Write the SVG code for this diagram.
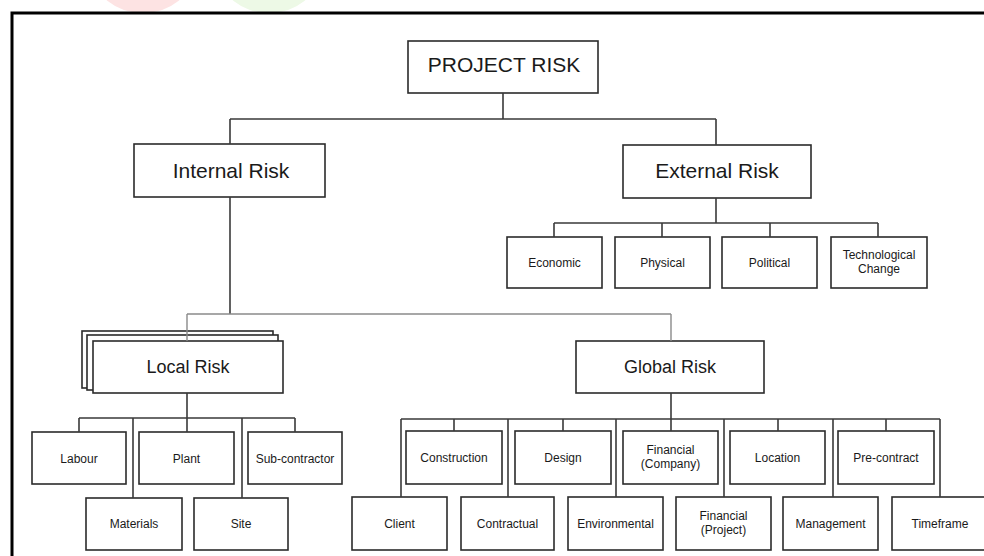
<svg xmlns="http://www.w3.org/2000/svg" width="984" height="556" viewBox="0 0 984 556">
<style>
.box{fill:#fff;stroke:#2b2b2b;stroke-width:1.6}
.big{font-family:"Liberation Sans",Arial,sans-serif;font-size:21px;fill:#1a1a1a;text-anchor:middle}
.mid{font-family:"Liberation Sans",Arial,sans-serif;font-size:18px;fill:#1a1a1a;text-anchor:middle}
.sm{font-family:"Liberation Sans",Arial,sans-serif;font-size:12px;fill:#1a1a1a;text-anchor:middle}
.con{fill:none;stroke:#3a3a3a;stroke-width:1.6}
.con2{fill:none;stroke:#8a8a8a;stroke-width:1.4}
</style>
<rect width="984" height="556" fill="#fff"/>
<ellipse cx="143" cy="-28" rx="50" ry="41" fill="#fde3e3"/>
<ellipse cx="269" cy="-28" rx="50" ry="41" fill="#edf9e6"/>
<rect x="12" y="13" width="990" height="560" fill="#fff" stroke="#000" stroke-width="3"/>

<g id="project-risk"><rect class="box" x="408" y="41" width="190" height="52"/><text class="big" x="504" y="72">PROJECT RISK</text></g>
<g id="internal-risk"><rect class="box" x="134" y="144" width="191" height="53"/><text class="big" x="231" y="178">Internal Risk</text></g>
<g id="external-risk"><rect class="box" x="623" y="145" width="188" height="53"/><text class="big" x="717" y="178">External Risk</text></g>

<g id="economic"><rect class="box" x="507" y="237" width="95" height="51"/><text class="sm" x="554.5" y="267">Economic</text></g>
<g id="physical"><rect class="box" x="615" y="237" width="95" height="51"/><text class="sm" x="662.5" y="267">Physical</text></g>
<g id="political"><rect class="box" x="722" y="237" width="95" height="51"/><text class="sm" x="769.5" y="267">Political</text></g>
<g id="technological-change"><rect class="box" x="831" y="237" width="96" height="51"/><text class="sm" x="879" y="259">Technological</text><text class="sm" x="879" y="273">Change</text></g>

<g id="local-risk">
<rect class="box" x="82" y="331" width="191" height="57"/>
<rect class="box" x="87" y="335" width="191" height="55"/>
<rect class="box" x="93" y="341" width="190" height="52"/>
<text class="mid" x="188" y="373">Local Risk</text></g>
<g id="global-risk"><rect class="box" x="576" y="341" width="188" height="52"/><text class="mid" x="670" y="373">Global Risk</text></g>

<g id="labour"><rect class="box" x="32" y="432" width="94" height="52"/><text class="sm" x="79" y="463">Labour</text></g>
<g id="plant"><rect class="box" x="139" y="432" width="95" height="52"/><text class="sm" x="186.5" y="463">Plant</text></g>
<g id="sub-contractor"><rect class="box" x="248" y="432" width="94" height="52"/><text class="sm" x="295" y="463">Sub-contractor</text></g>
<g id="materials"><rect class="box" x="86" y="498" width="96" height="52"/><text class="sm" x="134" y="528">Materials</text></g>
<g id="site"><rect class="box" x="194" y="498" width="94" height="52"/><text class="sm" x="241" y="528">Site</text></g>

<g id="construction"><rect class="box" x="406" y="431" width="96" height="53"/><text class="sm" x="454" y="462">Construction</text></g>
<g id="design"><rect class="box" x="515" y="431" width="96" height="53"/><text class="sm" x="563" y="462">Design</text></g>
<g id="financial-company"><rect class="box" x="623" y="431" width="95" height="53"/><text class="sm" x="670.5" y="454">Financial</text><text class="sm" x="670.5" y="468">(Company)</text></g>
<g id="location"><rect class="box" x="730" y="431" width="95" height="53"/><text class="sm" x="777.5" y="462">Location</text></g>
<g id="pre-contract"><rect class="box" x="838" y="431" width="96" height="53"/><text class="sm" x="886" y="462">Pre-contract</text></g>

<g id="client"><rect class="box" x="352" y="497" width="95" height="53"/><text class="sm" x="399.5" y="528">Client</text></g>
<g id="contractual"><rect class="box" x="461" y="497" width="93" height="53"/><text class="sm" x="507.5" y="528">Contractual</text></g>
<g id="environmental"><rect class="box" x="568" y="497" width="95" height="53"/><text class="sm" x="615.5" y="528">Environmental</text></g>
<g id="financial-project"><rect class="box" x="676" y="497" width="95" height="53"/><text class="sm" x="723.5" y="520">Financial</text><text class="sm" x="723.5" y="534">(Project)</text></g>
<g id="management"><rect class="box" x="783" y="497" width="95" height="53"/><text class="sm" x="830.5" y="528">Management</text></g>
<g id="timeframe"><rect class="box" x="892" y="497" width="96" height="53"/><text class="sm" x="940" y="528">Timeframe</text></g>

<g id="connectors">
<path class="con" d="M503 93V119M230 119H716M230 119V144M716 119V145"/>
<path class="con" d="M230 197V314"/>
<path class="con2" d="M187 314H671M187 314V341M671 314V341"/>
<path class="con" d="M716 198V223M554 223H878M554 223V237M662 223V237M770 223V237M878 223V237"/>
<path class="con" d="M187 393V432M79 418H295M79 418V432M295 418V432M133 418V498M242 418V498"/>
<path class="con" d="M671 393V431M401 419H940M401 419V497M454 419V431M508 419V497M563 419V431M616 419V497M724 419V497M778 419V431M833 419V497M886 419V431M940 419V497"/>
</g>
</svg>
